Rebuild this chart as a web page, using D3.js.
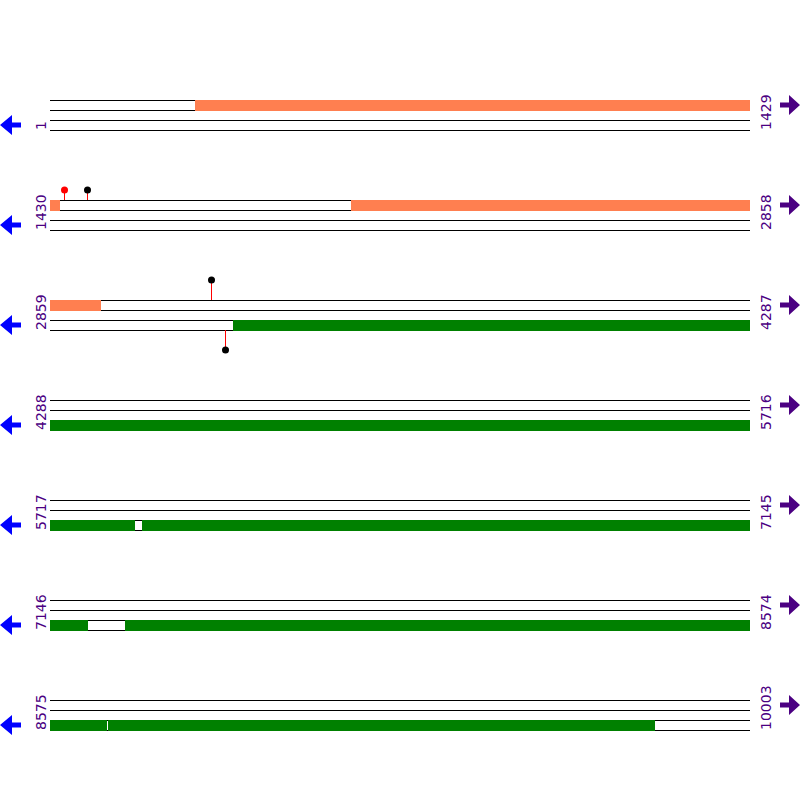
<!DOCTYPE html>
<html>
<head>
<meta charset="utf-8">
<script src="https://cdn.jsdelivr.net/npm/d3@7"></script>
<style>
  html, body { margin: 0; padding: 0; background: #fff; }
  svg { display: block; }
</style>
</head>
<body>
<svg id="chart" width="800" height="800"></svg>
<script>
// ---- data ----
const seqLength = 10003;
const basesPerRow = 1429;
const rowCount = 7;

// features: strand (+1 forward, -1 reverse), start, end, colour
const featureStrand = [1, 1, -1, -1, -1, -1];
const featureStart  = [297, 2045, 3233, 5904, 7299, 8693];
const featureEnd    = [1449, 2962, 5889, 7223, 8690, 9810];
const featureColor  = ["#FF7F50", "#FF7F50", "#008000", "#008000", "#008000", "#008000"];

// sites (lollipops): position, strand, stack level, head colour
const sitePos    = [1459, 1506, 3188, 3217];
const siteStrand = [1, 1, 1, -1];
const siteLevel  = [1, 1, 2, 2];
const siteHead   = ["#FF0000", "#000000", "#000000", "#000000"];

// ---- layout ----
const svg = d3.select("#chart");
const left = 50, right = 750, firstTop = 100, rowGap = 100, trackH = 10;
const labelColor = "#4B0082";

const rows = d3.range(rowCount).map(i => {
  const start = 1 + i * basesPerRow;
  const end = Math.min(seqLength, start + basesPerRow - 1);
  return { i, start, end, top: firstTop + i * rowGap,
           x: d3.scaleLinear().domain([start, start + basesPerRow]).range([left, right]) };
});

const features = featureStart.map((s, k) => ({ strand: featureStrand[k], start: s, end: featureEnd[k], color: featureColor[k] }));
const sites = sitePos.map((p, k) => ({ pos: p, strand: siteStrand[k], level: siteLevel[k], head: siteHead[k] }));

rows.forEach(r => {
  const g = svg.append("g");
  // track lines
  [0, 1, 2, 3].forEach(k => {
    g.append("line")
      .attr("x1", left).attr("x2", right)
      .attr("y1", r.top + k * trackH + 0.5).attr("y2", r.top + k * trackH + 0.5)
      .attr("stroke", "#000").attr("stroke-width", 1)
      .attr("shape-rendering", "crispEdges");
  });
  // features clipped to row
  features.forEach(f => {
    const s = Math.max(f.start, r.start), e = Math.min(f.end, r.end);
    if (s > e) return;
    const y = f.strand > 0 ? r.top : r.top + 2 * trackH;
    g.append("rect")
      .attr("x", r.x(s)).attr("width", r.x(e + 1) - r.x(s))
      .attr("y", y).attr("height", trackH + 1)
      .attr("fill", f.color)
      .attr("shape-rendering", "crispEdges");
  });
  // sites
  sites.forEach(st => {
    if (st.pos < r.start || st.pos > r.end) return;
    const cx = Math.round(r.x(st.pos)) + 0.5;
    const len = 10 * st.level;
    let y0, y1;
    if (st.strand > 0) { y0 = r.top; y1 = r.top - len; }
    else { y0 = r.top + 3 * trackH; y1 = y0 + len; }
    g.append("line")
      .attr("x1", cx).attr("x2", cx).attr("y1", y0).attr("y2", y1)
      .attr("stroke", "#FF0000").attr("stroke-width", 1);
    g.append("circle")
      .attr("cx", cx).attr("cy", y1).attr("r", 3.5)
      .attr("fill", st.head);
  });
  // labels
  g.append("text")
    .attr("transform", `translate(46,${r.top + 30}) rotate(-90)`)
    .attr("font-family", "DejaVu Sans").attr("font-size", 14)
    .attr("fill", labelColor).attr("text-anchor", "start")
    .text(r.start);
  g.append("text")
    .attr("transform", `translate(771,${r.top + 30}) rotate(-90)`)
    .attr("font-family", "DejaVu Sans").attr("font-size", 14)
    .attr("fill", labelColor).attr("text-anchor", "start")
    .text(r.end);
  // reverse arrow (left)
  const cyL = r.top + 25;
  g.append("path")
    .attr("d", `M0,${cyL} L12,${cyL - 10} L12,${cyL - 2.5} L21,${cyL - 2.5} L21,${cyL + 2.5} L12,${cyL + 2.5} L12,${cyL + 10} Z`)
    .attr("fill", "#0000FF");
  // forward arrow (right)
  const cyR = r.top + 5;
  g.append("path")
    .attr("d", `M800,${cyR} L789,${cyR - 10} L789,${cyR - 2.5} L780,${cyR - 2.5} L780,${cyR + 2.5} L789,${cyR + 2.5} L789,${cyR + 10} Z`)
    .attr("fill", labelColor);
});
</script>
</body>
</html>
